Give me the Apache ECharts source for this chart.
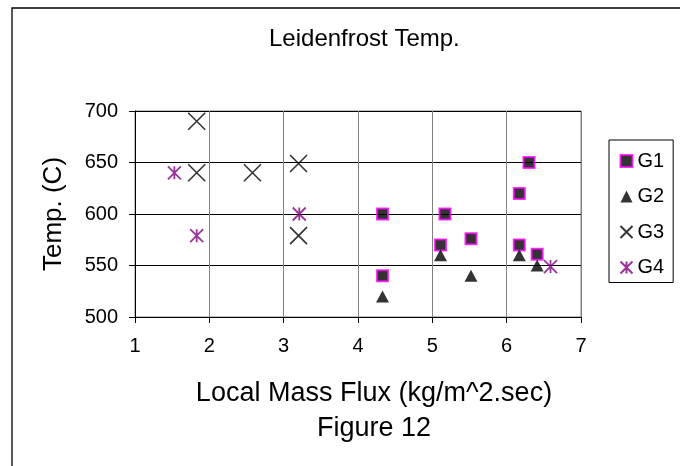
<!DOCTYPE html>
<html>
<head>
<meta charset="utf-8">
<script src="https://cdn.jsdelivr.net/npm/echarts@6/dist/echarts.min.js"></script>
<style>
html,body{margin:0;padding:0;background:#fff;}
#chart{width:680px;height:466px;}
</style>
</head>
<body>
<div id="chart"></div>
<script>
const xTicks = [1, 2, 3, 4, 5, 6, 7];
const yTicks = [500, 550, 600, 650, 700];
const g1X = [4.33, 4.33, 5.11, 5.17, 5.52, 6.17, 6.30, 6.17, 6.41];
const g1Y = [600, 540, 570, 600, 576, 620, 650, 570, 561];
const g2X = [4.33, 5.11, 5.52, 6.17, 6.41];
const g2Y = [520, 560, 540, 560, 550];
const g3X = [1.83, 1.83, 2.58, 3.20, 3.20];
const g3Y = [690, 640, 640, 649, 579];
const g4X = [1.53, 1.83, 3.21, 6.59];
const g4Y = [640, 579, 600, 549];

const FONT = "'Liberation Sans', Arial, sans-serif";
const pair = (xs, ys) => xs.map((x, i) => [x, ys[i]]);

const chart = echarts.init(document.getElementById('chart'), null, {renderer: 'canvas'});
chart.setOption({
  animation: false,
  backgroundColor: '#fff',
  graphic: [{
    type: 'rect',
    shape: {x: 12, y: 8, width: 700, height: 520},
    style: {fill: 'none', stroke: '#000', lineWidth: 1.3},
    silent: true
  }],
  title: {
    text: 'Leidenfrost Temp.',
    left: 269, top: 27, padding: 0,
    textStyle: {fontFamily: FONT, fontSize: 24, fontWeight: 'normal', color: '#000'}
  },
  legend: {
    orient: 'vertical',
    left: 609, top: 140,
    padding: [11, 9, 5, 9],
    itemGap: 15.5,
    itemWidth: 12, itemHeight: 12,
    itemTextGap: 7,
    borderColor: '#000', borderWidth: 1,
    textStyle: {fontFamily: FONT, fontSize: 20, color: '#000'},
    data: ['G1', 'G2', 'G3', 'G4']
  },
  grid: {
    left: 135, right: 99, top: 111, bottom: 149,
    show: true, borderColor: '#808080', borderWidth: 1
  },
  xAxis: {
    type: 'value', min: xTicks[0], max: xTicks[xTicks.length - 1], interval: 1,
    name: 'Local Mass Flux (kg/m^2.sec)\nFigure 12',
    nameLocation: 'middle', nameGap: 59,
    nameTextStyle: {fontFamily: FONT, fontSize: 27, color: '#000', lineHeight: 35, padding: [0, 0, 0, 32]},
    axisLine: {show: true, lineStyle: {color: '#000', width: 1}},
    axisTick: {show: true, inside: false, length: 6, lineStyle: {color: '#000'}},
    axisLabel: {fontFamily: FONT, fontSize: 20, color: '#000', margin: 19},
    splitLine: {show: true, lineStyle: {color: '#808080', width: 1}}
  },
  yAxis: {
    type: 'value', min: yTicks[0], max: yTicks[yTicks.length - 1], interval: 50,
    name: 'Temp. (C)',
    nameLocation: 'middle', nameGap: 68, nameRotate: 90,
    nameTextStyle: {fontFamily: FONT, fontSize: 26, color: '#000'},
    axisLine: {show: true, lineStyle: {color: '#000', width: 1}},
    axisTick: {show: true, inside: false, length: 6, lineStyle: {color: '#000'}},
    axisLabel: {fontFamily: FONT, fontSize: 20, color: '#000', margin: 17},
    splitLine: {show: true, lineStyle: {color: '#000', width: 1}}
  },
  series: [
    {
      name: 'G1', type: 'scatter', symbol: 'rect', symbolSize: 11,
      itemStyle: {color: '#000', borderColor: '#FF00FF', borderWidth: 2},
      data: pair(g1X, g1Y)
    },
    {
      name: 'G2', type: 'scatter', symbol: 'triangle', symbolSize: [13, 12],
      itemStyle: {color: '#000'},
      data: pair(g2X, g2Y)
    },
    {
      name: 'G3', type: 'scatter', symbol: 'path://M0,0L10,10M10,0L0,10', symbolSize: 17,
      itemStyle: {color: 'none', borderColor: '#000', borderWidth: 1.6},
      data: pair(g3X, g3Y)
    },
    {
      name: 'G4', type: 'scatter', symbol: 'path://M0,0L10,10M10,0L0,10M5,0L5,10', symbolSize: 13,
      itemStyle: {color: 'none', borderColor: '#800080', borderWidth: 1.8},
      data: pair(g4X, g4Y)
    }
  ]
});
</script>
</body>
</html>
